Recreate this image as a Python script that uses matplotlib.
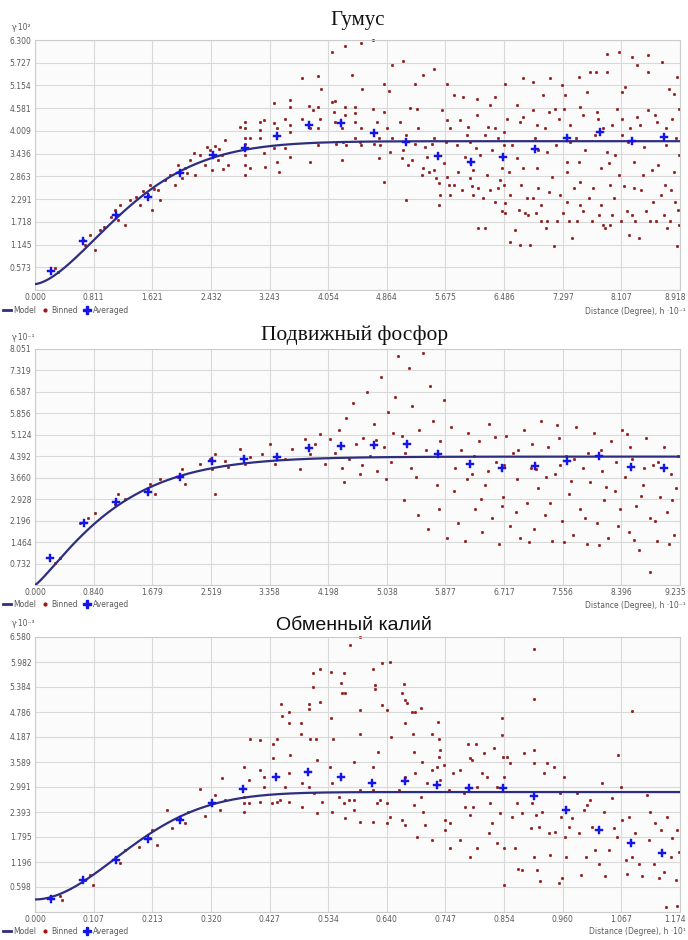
import numpy as np
import matplotlib
matplotlib.use("Agg")
import matplotlib.pyplot as plt
import matplotlib.transforms as mtransforms
from matplotlib.lines import Line2D

# ---------------- DATA ----------------
titles = ["Гумус", "Подвижный фосфор", "Обменный калий"]
y_labels = ["γ·10²", "γ·10⁻¹", "γ·10⁻³"]
x_labels = ["Distance (Degree), h ·10⁻¹", "Distance (Degree), h ·10⁻¹", "Distance (Degree), h ·10¹"]

x_max = [8.918, 9.235, 1.174]
y_max = [6.300, 8.051, 6.580]

x_ticklabels_1 = ["0.000", "0.811", "1.621", "2.432", "3.243", "4.054", "4.864", "5.675", "6.486", "7.297", "8.107", "8.918"]
y_ticklabels_1 = ["", "0.573", "1.145", "1.718", "2.291", "2.863", "3.436", "4.009", "4.581", "5.154", "5.727", "6.300"]
x_ticklabels_2 = ["0.000", "0.840", "1.679", "2.519", "3.358", "4.198", "5.038", "5.877", "6.717", "7.556", "8.396", "9.235"]
y_ticklabels_2 = ["", "0.732", "1.464", "2.196", "2.928", "3.660", "4.392", "5.124", "5.856", "6.587", "7.319", "8.051"]
x_ticklabels_3 = ["0.000", "0.107", "0.213", "0.320", "0.427", "0.534", "0.640", "0.747", "0.854", "0.960", "1.067", "1.174"]
y_ticklabels_3 = ["", "0.598", "1.196", "1.795", "2.393", "2.991", "3.589", "4.187", "4.786", "5.384", "5.982", "6.580"]

# model parameters (stable model): nugget, partial sill, scale, shape
model_1 = (0.15, 3.60, 1.52, 1.6)
model_2 = (0.00, 4.38, 1.22, 1.2)
model_3 = (0.30, 2.57, 0.215, 1.9)

# averaged points
avg_x_1 = [0.22, 0.66, 1.12, 1.56, 2.00, 2.46, 2.905, 3.343, 3.790, 4.232, 4.689, 5.131, 5.578, 6.026, 6.469, 6.916, 7.362, 7.805, 8.253, 8.690]
avg_y_1 = [0.48, 1.23, 1.88, 2.34, 2.96, 3.39, 3.585, 3.877, 4.153, 4.221, 3.962, 3.719, 3.374, 3.234, 3.360, 3.550, 3.819, 3.970, 3.751, 3.844]
avg_x_2 = [0.215, 0.70, 1.16, 1.62, 2.08, 2.54, 2.99, 3.47, 3.93, 4.38, 4.86, 5.32, 5.77, 6.23, 6.69, 7.16, 7.62, 8.08, 8.54, 9.00]
avg_y_2 = [0.91, 2.13, 2.84, 3.18, 3.69, 4.23, 4.30, 4.36, 4.67, 4.74, 4.77, 4.80, 4.47, 4.13, 4.00, 4.07, 4.24, 4.40, 4.03, 4.00]
avg_x_3 = [0.029, 0.087, 0.148, 0.206, 0.264, 0.322, 0.379, 0.439, 0.497, 0.557, 0.614, 0.674, 0.732, 0.790, 0.851, 0.909, 0.967, 1.026, 1.084, 1.142]
avg_y_3 = [0.31, 0.77, 1.24, 1.75, 2.20, 2.61, 2.94, 3.23, 3.35, 3.23, 3.09, 3.13, 3.04, 2.97, 2.97, 2.78, 2.44, 1.96, 1.65, 1.41]

# binned points (x, y)
binned_1 = [
    (0.28, 0.55), (0.32, 0.45), (0.66, 1.26), (0.69, 1.13), (0.76, 1.38), (0.83, 1.01), (0.90, 1.51), (0.95, 1.60),
    (1.05, 1.85), (1.11, 2.01), (1.15, 1.76), (1.18, 2.14), (1.24, 1.63), (1.31, 2.26), (1.40, 2.35), (1.45, 2.14),
    (1.50, 2.50), (1.56, 2.39), (1.59, 2.64), (1.62, 2.01), (1.65, 2.55), (1.70, 2.51), (1.73, 2.26), (1.80, 2.76),
    (1.87, 2.89), (1.94, 2.64), (1.98, 3.14), (2.03, 2.81), (2.07, 3.07), (2.10, 2.95), (2.14, 3.27), (2.20, 3.45),
    (2.21, 2.89), (2.28, 3.39), (2.35, 3.14), (2.38, 3.60), (2.42, 3.52), (2.45, 3.02), (2.49, 3.64), (2.53, 3.27),
    (2.55, 3.55), (2.59, 3.39), (2.60, 3.05), (2.63, 3.77), (2.67, 3.14),
    (4.10, 6.01), (4.29, 6.15), (4.51, 6.23), (4.68, 6.29), (4.94, 5.68), (5.09, 5.78), (5.36, 5.43), (5.51, 5.56),
    (4.38, 5.43), (3.91, 5.39), (3.69, 5.33), (3.96, 5.06), (4.52, 5.07), (4.82, 5.18), (4.90, 5.02), (5.26, 5.20),
    (5.69, 5.20),
    (2.90, 4.24), (2.90, 4.07), (2.90, 3.82), (2.90, 3.69), (2.90, 3.40), (2.90, 3.15), (2.90, 2.90), (2.84, 4.11),
    (2.97, 3.07), (2.97, 3.82), (3.11, 4.24), (3.16, 4.28), (3.11, 4.03), (3.16, 3.44), (3.18, 3.11), (3.11, 3.82),
    (3.30, 4.72), (3.30, 4.20), (3.30, 3.57), (3.34, 4.07), (3.34, 3.23), (3.37, 2.98), (3.46, 4.32), (3.46, 3.57),
    (3.53, 4.78), (3.53, 4.615), (3.53, 4.15), (3.53, 3.36), (3.53, 3.99), (3.69, 4.32), (3.79, 4.64), (3.80, 4.07),
    (3.80, 3.23), (3.85, 4.53), (3.91, 4.615), (3.91, 4.07), (3.91, 3.65), (3.94, 4.32), (4.10, 4.74), (4.13, 4.49),
    (4.15, 4.76), (4.15, 4.24), (4.16, 3.69), (4.24, 4.07), (4.24, 3.27), (4.26, 3.74), (4.29, 4.41), (4.29, 4.615),
    (4.30, 3.65), (4.43, 4.615), (4.43, 4.45), (4.43, 4.24), (4.43, 3.82), (4.51, 4.07), (4.51, 3.65), (4.50, 3.74),
    (4.68, 4.57), (4.69, 3.69), (4.73, 4.24), (4.75, 3.82), (4.76, 3.32), (4.77, 3.65), (4.82, 4.49), (4.82, 2.73),
    (4.86, 4.07), (4.91, 3.48), (4.93, 3.82), (5.05, 4.24), (5.07, 3.32), (5.09, 3.53), (5.13, 3.90), (5.13, 2.27),
    (5.16, 3.15), (5.19, 4.59), (5.21, 3.27), (5.26, 3.69), (5.28, 4.57), (5.30, 4.07), (5.35, 2.90), (5.37, 3.07),
    (5.39, 3.61), (5.42, 3.36), (5.49, 3.69), (5.51, 3.82), (5.58, 2.69), (5.58, 2.14), (5.63, 4.53), (5.69, 4.28),
    (5.69, 2.86), (5.72, 2.65), (5.74, 4.07), (5.74, 2.40), (5.80, 4.91), (5.88, 4.28), (5.92, 4.87), (5.99, 4.11),
    (6.01, 3.74), (6.02, 3.23), (6.02, 2.82), (6.04, 2.61), (6.06, 3.02), (6.11, 4.82), (6.11, 4.41), (6.13, 1.56),
    (6.22, 3.90), (6.22, 1.56), (6.13, 2.56), (6.29, 4.66), (6.29, 2.52), (6.36, 4.87), (6.36, 4.07), (6.36, 2.23),
    (6.43, 2.77), (6.45, 3.07), (6.48, 3.99), (6.48, 3.65), (6.48, 2.65), (6.50, 5.20), (6.50, 2.19), (6.50, 1.94),
    (6.57, 1.22), (6.57, 2.40), (6.66, 4.66), (6.67, 3.32), (6.69, 2.02), (6.71, 1.14), (6.75, 5.33), (6.75, 4.36),
    (6.75, 3.07), (6.80, 2.31), (6.82, 1.89), (6.85, 1.14), (6.89, 5.24), (6.89, 4.53), (6.93, 1.93), (6.94, 4.15),
    (6.94, 3.07), (6.96, 2.56), (6.99, 1.73), (7.03, 4.91), (7.05, 4.07), (7.08, 1.73), (7.10, 4.49), (7.11, 2.48),
    (7.12, 5.33), (7.17, 1.10), (7.19, 4.57), (7.22, 1.73), (7.28, 5.16), (7.31, 4.57), (7.33, 4.91), (7.35, 3.23),
    (7.35, 2.98), (7.35, 2.23), (7.38, 1.73), (7.40, 4.15), (7.42, 1.31), (7.49, 1.73), (7.52, 5.37), (7.52, 3.23),
    (7.54, 4.615), (7.54, 2.73), (7.54, 2.14), (7.63, 4.99), (7.68, 5.49), (7.72, 2.56), (7.75, 5.49), (7.77, 4.49),
    (7.79, 4.32), (7.82, 3.07), (7.82, 2.14), (7.86, 1.64), (7.88, 1.56), (7.91, 5.95), (7.91, 5.49), (7.91, 3.48),
    (7.93, 3.19), (7.95, 2.65), (7.98, 1.89), (8.07, 6.00), (8.05, 4.57), (8.07, 2.90), (8.11, 4.99), (8.11, 3.90),
    (8.16, 5.12), (8.18, 1.98), (8.21, 1.39), (8.23, 4.07), (8.25, 5.87), (8.28, 3.23), (8.28, 2.56), (8.30, 1.73),
    (8.32, 5.66), (8.32, 4.36), (8.35, 1.31), (8.41, 2.90), (8.48, 5.91), (8.48, 5.49), (8.48, 4.53), (8.51, 1.73),
    (8.55, 2.23), (8.60, 4.24), (8.62, 3.15), (8.67, 5.75), (8.69, 1.89), (8.71, 2.65), (8.74, 1.56), (8.76, 5.07),
    (8.81, 4.32), (8.83, 4.95), (8.83, 2.98), (8.85, 2.23), (8.88, 5.37), (8.88, 1.10), (8.90, 1.64), (8.90, 3.40),
    (8.90, 4.57),
    (5.45, 2.98), (5.55, 2.82), (5.60, 2.40), (5.66, 3.19), (5.80, 2.65), (5.85, 2.98), (5.90, 2.52), (5.95, 3.36),
    (6.05, 2.40), (6.15, 3.40), (6.20, 2.31), (6.25, 2.90), (6.32, 3.53), (6.40, 2.56), (6.46, 1.98), (6.55, 2.98),
    (6.60, 3.65), (6.64, 1.52), (6.72, 2.65), (6.78, 1.93), (6.88, 2.31), (6.95, 3.53), (7.00, 2.14), (7.06, 1.56),
    (7.15, 2.86), (7.20, 3.65), (7.26, 2.40), (7.30, 1.93), (7.45, 2.56), (7.48, 3.82), (7.58, 1.98), (7.60, 3.53),
    (7.66, 2.31), (7.70, 1.73), (7.80, 1.89), (7.85, 4.07), (7.95, 1.64), (8.00, 2.31), (8.02, 3.40), (8.10, 1.73),
    (8.14, 2.61), (8.20, 3.74), (8.26, 1.89), (8.38, 2.52), (8.42, 3.61), (8.45, 1.98), (8.53, 3.02), (8.58, 1.73),
    (8.65, 2.40), (8.72, 3.65), (8.78, 1.73), (8.80, 2.52), (8.86, 3.82), (8.89, 2.02), (8.73, 4.07), (8.57, 4.41),
    (8.36, 4.15), (8.12, 4.32), (7.98, 4.15), (7.74, 3.90), (7.58, 4.41), (7.40, 3.74), (7.25, 4.32), (7.08, 3.48),
    (6.92, 3.82), (6.70, 4.24), (6.52, 4.32), (6.40, 3.82), (6.26, 4.11), (6.10, 3.57), (5.97, 3.90), (5.83, 3.65),
    (5.68, 3.74), (5.52, 3.02),
]

binned_2 = [
    (0.29, 0.74), (0.36, 0.91), (0.64, 2.10), (0.76, 2.27), (0.86, 2.44), (1.15, 2.77), (1.19, 3.11), (1.29, 2.94),
    (1.62, 3.28), (1.65, 3.45), (1.72, 3.11), (1.79, 3.62), (2.05, 3.69), (2.11, 3.96), (2.15, 3.45), (2.36, 4.13),
    (2.51, 4.30), (2.54, 3.96), (2.58, 4.47), (2.72, 4.23), (2.77, 4.03), (2.58, 3.11), (2.94, 4.63), (3.01, 4.13),
    (3.08, 4.36), (3.25, 4.47), (3.37, 4.80), (3.44, 4.13), (3.58, 4.30), (3.68, 4.63), (3.80, 3.96), (3.87, 4.97),
    (3.94, 4.47), (4.01, 4.80), (4.08, 5.14), (4.15, 4.13), (4.23, 4.97),
    (4.30, 4.50), (4.35, 5.30), (4.40, 4.00), (4.45, 5.70), (4.50, 4.30), (4.55, 6.20), (4.60, 4.80), (4.65, 3.80),
    (4.70, 5.00), (4.75, 6.60), (4.80, 4.40), (4.85, 5.50), (4.90, 3.90), (4.95, 7.10), (5.00, 4.70), (5.05, 5.90),
    (5.10, 4.20), (5.15, 6.40), (5.20, 7.80), (5.25, 5.10), (5.30, 4.50), (5.35, 7.40), (5.40, 6.10), (5.45, 3.70),
    (5.50, 5.30), (5.55, 7.90), (5.60, 4.60), (5.65, 6.80), (5.70, 5.60), (5.75, 3.40), (5.80, 4.90), (5.85, 6.30),
    (4.42, 3.50), (4.68, 4.10), (5.02, 3.60), (5.28, 2.90), (5.48, 2.40), (5.62, 1.90), (5.78, 2.60), (5.90, 1.60),
    (4.88, 4.95), (5.12, 5.20), (5.38, 4.00),
    (5.95, 5.40), (6.00, 3.20), (6.05, 2.10), (6.10, 4.60), (6.15, 1.50), (6.20, 5.20), (6.25, 3.80), (6.30, 2.60),
    (6.35, 4.90), (6.40, 1.80), (6.45, 3.40), (6.50, 5.50), (6.55, 2.30), (6.60, 4.20), (6.65, 1.40), (6.70, 3.00),
    (6.75, 5.10), (6.80, 2.00), (6.85, 4.50), (6.90, 3.60), (6.95, 1.60), (7.00, 5.30), (7.05, 2.80), (7.10, 4.00),
    (7.15, 1.90), (7.20, 3.30), (7.25, 5.60), (7.30, 2.40), (7.35, 4.70), (7.40, 1.50), (7.45, 3.80), (7.50, 5.00),
    (7.55, 2.20), (7.60, 4.40), (7.65, 3.10), (7.70, 1.70), (7.75, 5.40), (7.80, 2.60), (7.85, 4.00), (7.90, 1.40),
    (7.95, 3.50), (8.00, 5.20), (8.05, 2.10), (8.10, 4.60), (8.15, 2.90), (8.20, 1.60), (8.25, 4.90), (8.30, 3.20),
    (8.35, 2.00), (8.40, 5.30), (8.45, 3.70), (8.50, 1.80), (8.55, 4.30), (8.60, 2.70), (8.65, 1.20), (8.70, 3.40),
    (8.75, 5.00), (8.80, 2.30), (8.85, 4.10), (8.90, 1.50), (8.95, 3.00), (9.00, 4.70), (9.05, 2.50), (9.10, 3.80),
    (9.15, 1.70), (9.20, 4.40), (6.02, 4.00), (6.28, 4.40), (6.48, 3.90), (6.72, 4.10), (6.92, 4.60), (7.12, 4.80),
    (7.32, 3.70), (7.52, 4.10), (7.72, 4.30), (7.92, 4.50), (8.12, 3.90), (8.32, 4.20), (8.52, 4.70), (8.72, 4.00),
    (8.92, 4.20), (9.12, 2.90), (8.81, 0.44), (6.38, 2.95), (6.88, 2.50), (7.38, 2.80), (7.88, 2.30), (8.38, 2.60),
    (8.88, 2.20), (7.08, 1.45), (7.58, 1.45), (8.08, 1.35), (8.58, 1.55), (9.08, 1.40), (6.58, 5.05), (7.48, 5.45),
    (8.48, 5.15), (6.18, 3.60), (6.68, 2.70), (7.18, 3.95), (7.68, 3.55), (8.18, 3.35), (8.68, 3.05), (9.18, 3.30),
]

binned_3 = [
    (0.046, 0.38), (0.049, 0.29), (0.091, 0.77), (0.100, 0.89), (0.106, 0.65), (0.146, 1.29), (0.155, 1.17),
    (0.164, 1.48), (0.190, 1.55), (0.209, 1.77), (0.213, 1.96), (0.222, 1.60), (0.240, 2.45), (0.250, 2.00),
    (0.264, 2.25), (0.273, 2.13), (0.279, 2.39), (0.300, 2.95), (0.310, 2.30), (0.319, 2.61), (0.328, 2.80),
    (0.337, 2.44), (0.340, 3.20), (0.346, 2.68),
    (0.574, 6.39), (0.592, 6.57), (0.909, 6.29), (0.909, 5.09), (1.087, 4.81), (0.615, 5.81), (0.631, 5.96),
    (0.647, 5.99), (0.506, 5.73), (0.519, 5.81), (0.539, 5.75), (0.563, 5.71), (0.557, 5.49), (0.559, 5.25),
    (0.565, 5.23), (0.618, 5.43), (0.619, 5.33), (0.672, 5.45), (0.668, 5.25), (0.674, 5.07), (0.677, 4.99),
    (0.686, 4.79), (0.692, 4.79), (0.703, 4.87), (0.591, 4.83), (0.631, 4.95), (0.641, 4.83), (0.448, 4.98),
    (0.463, 4.79), (0.449, 4.69), (0.463, 4.53), (0.485, 4.53), (0.498, 4.98), (0.498, 4.85), (0.506, 5.39),
    (0.519, 5.03), (0.539, 4.63), (0.543, 4.15), (0.485, 4.26), (0.501, 4.15), (0.512, 4.15), (0.592, 4.26),
    (0.648, 4.18), (0.674, 4.53), (0.688, 4.26), (0.723, 4.27), (0.734, 4.55), (0.735, 4.15), (0.392, 4.13),
    (0.410, 4.11), (0.433, 4.03), (0.440, 4.15), (0.433, 3.68), (0.465, 3.76), (0.513, 3.64), (0.580, 3.58),
    (0.625, 3.84), (0.689, 3.84), (0.704, 3.60), (0.738, 3.88),
    (0.381, 3.48), (0.381, 2.76), (0.381, 2.60), (0.381, 2.40), (0.390, 3.16), (0.390, 2.60), (0.409, 3.40),
    (0.409, 2.64), (0.416, 3.24), (0.416, 3.00), (0.431, 2.60), (0.440, 2.64), (0.446, 2.68), (0.455, 3.00),
    (0.462, 3.32), (0.463, 2.64), (0.486, 3.08), (0.486, 2.52), (0.499, 3.00), (0.507, 2.84), (0.514, 2.36),
    (0.522, 2.64), (0.537, 3.48), (0.540, 3.08), (0.540, 2.40), (0.553, 2.76), (0.562, 2.60), (0.565, 2.24),
    (0.571, 2.68), (0.580, 2.68), (0.581, 2.44), (0.591, 2.16), (0.592, 2.92), (0.615, 3.48), (0.615, 2.92),
    (0.615, 2.16), (0.622, 2.60), (0.628, 2.68), (0.641, 2.60), (0.641, 2.12), (0.647, 2.28), (0.662, 2.92),
    (0.668, 2.20), (0.674, 3.24), (0.674, 2.08), (0.689, 2.56), (0.692, 3.32), (0.695, 1.80), (0.703, 2.76),
    (0.707, 2.40), (0.709, 2.08), (0.713, 3.08), (0.723, 3.40), (0.723, 1.72), (0.732, 3.48), (0.735, 3.72),
    (0.738, 3.16), (0.744, 3.52), (0.747, 2.20), (0.747, 1.96), (0.753, 2.92), (0.756, 2.12), (0.756, 1.52),
    (0.761, 3.32), (0.774, 3.40), (0.774, 1.72), (0.780, 2.84), (0.783, 2.52), (0.789, 4.03), (0.791, 3.68),
    (0.791, 1.32), (0.792, 2.32), (0.795, 3.64), (0.797, 2.52), (0.803, 4.03), (0.805, 3.00), (0.805, 1.52),
    (0.814, 3.32), (0.817, 3.80), (0.823, 3.24), (0.826, 1.88), (0.829, 2.60), (0.832, 2.12), (0.835, 3.92),
    (0.841, 3.00), (0.841, 1.64), (0.847, 2.36), (0.850, 4.63), (0.850, 4.23), (0.852, 3.72), (0.853, 3.24),
    (0.853, 1.52), (0.853, 0.65), (0.859, 3.72), (0.865, 3.56), (0.868, 2.28), (0.874, 1.52), (0.877, 2.60),
    (0.880, 1.04), (0.887, 2.36), (0.887, 1.00), (0.890, 3.80), (0.902, 2.00), (0.905, 2.60), (0.908, 3.88),
    (0.909, 3.56), (0.909, 1.32), (0.911, 2.32), (0.914, 1.00), (0.917, 2.04), (0.920, 0.73), (0.923, 2.40),
    (0.926, 3.32), (0.932, 3.56), (0.935, 1.88), (0.938, 1.36), (0.944, 3.48), (0.947, 1.92), (0.953, 0.69),
    (0.956, 2.84), (0.958, 2.28), (0.959, 0.81), (0.962, 3.24), (0.965, 1.80), (0.967, 1.32), (0.972, 2.04),
    (0.978, 2.24), (0.987, 2.84), (0.990, 1.88), (0.993, 0.88), (0.999, 2.44), (1.002, 1.32), (1.005, 2.56),
    (1.011, 2.68), (1.014, 2.04), (1.020, 1.48), (1.026, 1.16), (1.032, 3.08), (1.035, 2.40), (1.038, 0.85),
    (1.044, 1.48), (1.050, 2.72), (1.053, 2.00), (1.060, 1.80), (1.061, 3.76), (1.066, 3.00), (1.069, 2.20),
    (1.075, 1.24), (1.078, 0.92), (1.081, 2.28), (1.087, 1.32), (1.093, 1.88), (1.099, 1.16), (1.105, 0.85),
    (1.114, 2.80), (1.117, 1.72), (1.120, 2.40), (1.126, 1.16), (1.129, 2.12), (1.135, 0.81), (1.139, 1.96),
    (1.145, 0.96), (1.148, 0.13), (1.151, 2.28), (1.157, 1.32), (1.160, 1.76), (1.166, 0.77), (1.169, 1.96),
    (1.169, 0.15), (1.172, 1.44),
]

# ---------------- STYLE ----------------
MODEL_C = "#2e2e80"
BIN_C = "#a31515"
AVG_C = "#1515e6"
TXT_C = "#5a5a5a"
GRID_C = "#d9d9d9"

W, H = 688, 940
fig = plt.figure(figsize=(W / 100, H / 100), dpi=100)


def fx(px):
    return px / W


def fy(py):
    return 1 - py / H


panels = [
    dict(top=40, bottom=290, title_y=20, title_x=358, title_font="Liberation Serif", title_size=15,
         ylab_y=28, xlab_y=311, leg_y=306,
         xt=x_ticklabels_1, yt=y_ticklabels_1, model=model_1, ax_=avg_x_1, ay_=avg_y_1, binned=binned_1),
    dict(top=349, bottom=585, title_y=335, title_x=355, title_font="Liberation Serif", title_size=15.5,
         ylab_y=337, xlab_y=605, leg_y=600,
         xt=x_ticklabels_2, yt=y_ticklabels_2, model=model_2, ax_=avg_x_2, ay_=avg_y_2, binned=binned_2),
    dict(top=637, bottom=912, title_y=625, title_x=354, title_font="Liberation Sans", title_size=14,
         ylab_y=623, xlab_y=932, leg_y=927,
         xt=x_ticklabels_3, yt=y_ticklabels_3, model=model_3, ax_=avg_x_3, ay_=avg_y_3, binned=binned_3),
]

for i, p in enumerate(panels):
    left, right = 35, 680
    ax = fig.add_axes([fx(left), fy(p["bottom"]), (right - left) / W, (p["bottom"] - p["top"]) / H])
    ax.set_facecolor("#fbfbfb")
    xm, ym = x_max[i], y_max[i]
    ax.set_xlim(0, xm)
    ax.set_ylim(0, ym)
    xticks = np.linspace(0, xm, len(p["xt"]))
    yticks = np.linspace(0, ym, len(p["yt"]))
    ax.set_xticks(xticks)
    ax.set_xticklabels(p["xt"], fontsize=5.5, color=TXT_C)
    ax.set_yticks(yticks)
    ax.set_yticklabels(p["yt"], fontsize=5.5, color=TXT_C)
    ax.tick_params(length=0, pad=2.5)
    last = ax.get_xticklabels()[-1]
    last.set_transform(last.get_transform() + mtransforms.ScaledTranslation(-5 / 100, 0, fig.dpi_scale_trans))
    ax.grid(True, color=GRID_C, lw=0.8)
    ax.set_axisbelow(True)
    for s in ax.spines.values():
        s.set_color("#cccccc")
        s.set_linewidth(0.8)

    bx = [b[0] for b in p["binned"]]
    by = [b[1] for b in p["binned"]]
    ax.scatter(bx, by, s=3.5, color=BIN_C, edgecolors="#7a1010", linewidths=0.3, zorder=2, clip_on=False)

    c0, c1, a, alpha = p["model"]
    hh = np.linspace(0, xm, 400)
    gam = c0 + c1 * (1 - np.exp(-(hh / a) ** alpha))
    ax.plot(hh, gam, color=MODEL_C, lw=1.6, zorder=3)

    ax.plot(p["ax_"], p["ay_"], linestyle="none", marker="P", markersize=6, color=AVG_C,
            markeredgecolor=AVG_C, markeredgewidth=0.3, zorder=4)

    fig.text(fx(p["title_x"]), fy(p["title_y"]), titles[i], ha="center", va="center",
             family=p["title_font"], fontsize=p["title_size"], color="#111111")
    fig.text(fx(12), fy(p["ylab_y"]), y_labels[i], ha="left", va="center", fontsize=5.5, color=TXT_C)
    fig.text(fx(686), fy(p["xlab_y"]), x_labels[i], ha="right", va="center", fontsize=5.5, color=TXT_C)

    handles = [
        Line2D([], [], color=MODEL_C, lw=2),
        Line2D([], [], linestyle="none", marker="o", markersize=2, color=BIN_C),
        Line2D([], [], linestyle="none", marker="P", markersize=6, color=AVG_C),
    ]
    leg = fig.legend(handles, ["Model", "Binned", "Averaged"], loc="upper left",
                     bbox_to_anchor=(fx(3), fy(p["leg_y"])), ncol=3, frameon=False, fontsize=5.5,
                     handlelength=1.0, columnspacing=0.7, handletextpad=0.3, borderpad=0, borderaxespad=0)
    for t in leg.get_texts():
        t.set_color(TXT_C)

fig.savefig("out.png", dpi=100, facecolor="white")
